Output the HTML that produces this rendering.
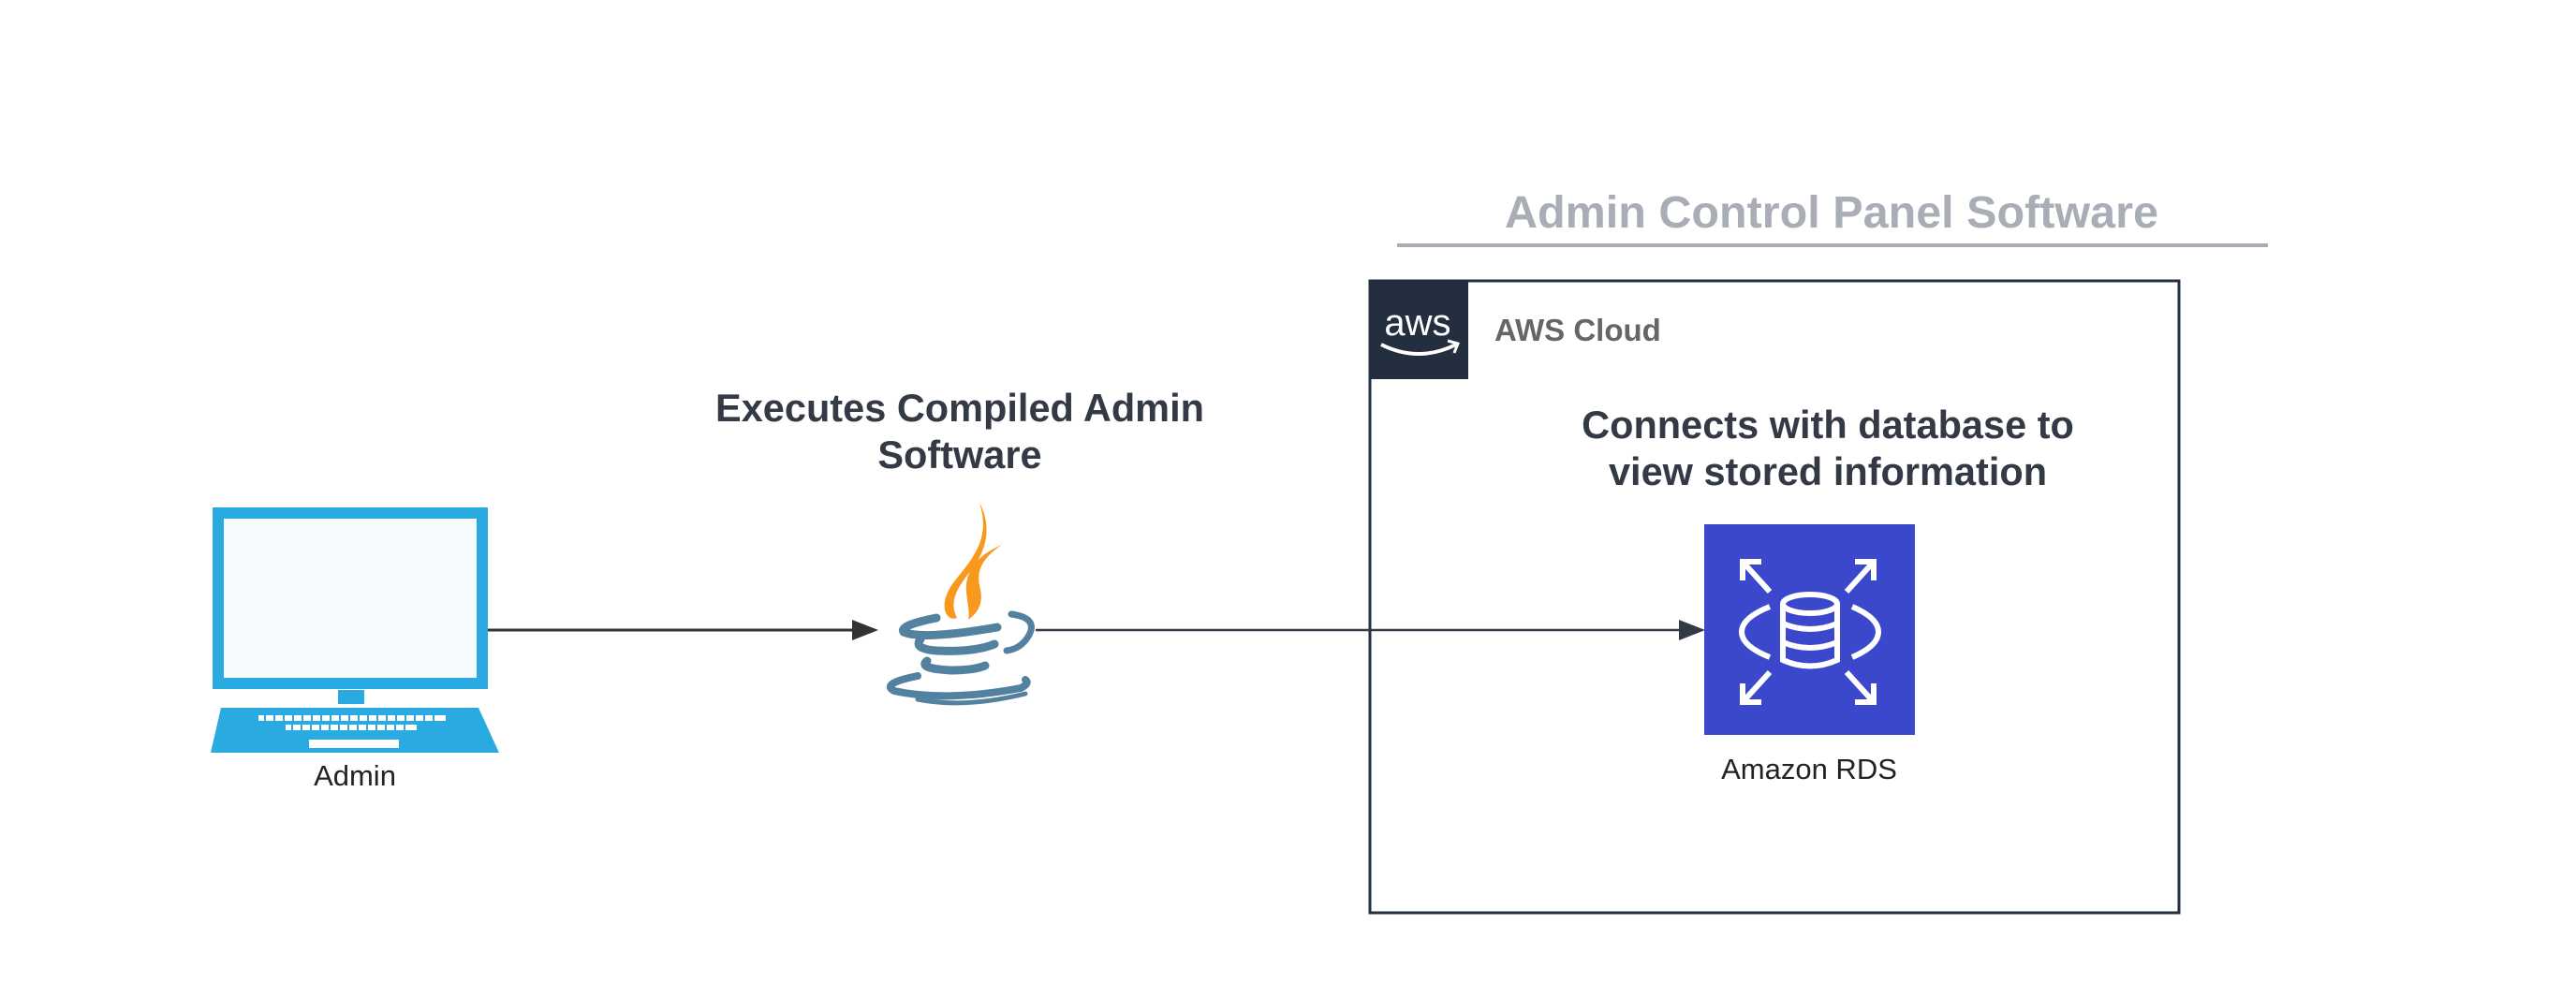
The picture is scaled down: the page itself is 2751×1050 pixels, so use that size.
<!DOCTYPE html>
<html><head><meta charset="utf-8"><style>
html,body{margin:0;padding:0;background:#fff;}
svg{display:block;}
text{font-family:"Liberation Sans",Arial,sans-serif;}
</style></head><body>
<svg width="2751" height="1050" viewBox="0 0 2751 1050" xmlns="http://www.w3.org/2000/svg">
<rect width="2751" height="1050" fill="#fff"/>
<!-- Title -->
<text x="1956" y="243" font-size="48.5" font-weight="bold" fill="#a9adb5" text-anchor="middle">Admin Control Panel Software</text>
<line x1="1492" y1="262" x2="2422" y2="262" stroke="#a9adb5" stroke-width="4"/>
<!-- AWS box -->
<rect x="1463" y="300" width="864" height="675" fill="none" stroke="#232f3e" stroke-width="3"/>
<rect x="1462" y="299" width="106" height="106" fill="#232f3e"/>
<text x="1514" y="358" font-size="40" fill="#fff" text-anchor="middle">aws</text>
<path d="M1475 368 Q1515 388 1555 368" stroke="#fff" stroke-width="4" fill="none"/>
<path d="M1546 364 L1557 367 L1553 377" stroke="#fff" stroke-width="3" fill="none"/>
<text x="1596" y="364" font-size="33" font-weight="bold" fill="#666">AWS Cloud</text>
<text x="1952" y="468" font-size="41.5" font-weight="bold" fill="#333a45" text-anchor="middle">Connects with database to</text>
<text x="1952" y="518" font-size="41.5" font-weight="bold" fill="#333a45" text-anchor="middle">view stored information</text>
<!-- RDS -->
<rect x="1820" y="560" width="225" height="225" fill="#3b48cc"/>
<g stroke="#fff" stroke-width="6" fill="none">
<path d="M1861 620 V600 H1881 M1861 600 L1890 632"/>
<path d="M2001 620 V600 H1981 M2001 600 L1972 632"/>
<path d="M1861 730 V750 H1881 M1861 750 L1890 718"/>
<path d="M2001 730 V750 H1981 M2001 750 L1972 718"/>
<path d="M1890 648 Q1860 660 1860 675 Q1860 690 1890 702"/>
<path d="M1978 648 Q2006 660 2006 675 Q2006 690 1978 702"/>
<ellipse cx="1933" cy="645" rx="29" ry="10"/>
<path d="M1904 645 V705 Q1933 718 1962 705 V645"/>
<path d="M1904 666 Q1933 678 1962 666 M1904 686 Q1933 698 1962 686"/>
</g>
<text x="1932" y="832" font-size="31" fill="#222" text-anchor="middle">Amazon RDS</text>
<!-- Admin computer -->
<rect x="233" y="548" width="282" height="182" fill="#f8fbfd" stroke="#29abe2" stroke-width="12"/>
<rect x="361" y="737" width="28" height="15" fill="#29abe2"/>
<path d="M236 756 H511 L533 804 H225 Z" fill="#29abe2"/>
<g fill="#fff">
<rect x="276" y="764" width="200" height="6"/>
<rect x="305" y="774" width="140" height="6"/>
<rect x="330" y="790" width="96" height="9"/>
</g>
<g stroke="#29abe2" stroke-width="2">
<path d="M283 764 V770 M293 764 V770 M303 764 V770 M313 764 V770 M323 764 V770 M333 764 V770 M343 764 V770 M353 764 V770 M363 764 V770 M373 764 V770 M383 764 V770 M393 764 V770 M403 764 V770 M413 764 V770 M423 764 V770 M433 764 V770 M443 764 V770 M453 764 V770 M463 764 V770"/>
<path d="M312 774 V780 M322 774 V780 M332 774 V780 M342 774 V780 M352 774 V780 M362 774 V780 M372 774 V780 M382 774 V780 M392 774 V780 M402 774 V780 M412 774 V780 M422 774 V780 M432 774 V780"/>
</g>
<text x="379" y="839" font-size="31" fill="#222" text-anchor="middle">Admin</text>
<!-- Executes text -->
<text x="1025" y="450" font-size="41.5" font-weight="bold" fill="#333a45" text-anchor="middle">Executes Compiled Admin</text>
<text x="1025" y="500" font-size="41.5" font-weight="bold" fill="#333a45" text-anchor="middle">Software</text>
<!-- connectors -->
<line x1="521" y1="673" x2="915" y2="673" stroke="#333" stroke-width="3"/>
<path d="M910 662 L938 673 L910 684 Z" fill="#333"/>
<line x1="1106" y1="673" x2="1797" y2="673" stroke="#333a45" stroke-width="2.5"/>
<path d="M1793 662 L1821 673 L1793 684 Z" fill="#333a45"/>
<!-- Java icon -->
<g fill="#f8981d">
<path d="M1046 537 C1058 575 1040 595 1020 620 C1000 645 1010 665 1022 660 C1012 640 1025 625 1040 605 C1058 580 1056 555 1046 537 Z"/>
<path d="M1070 582 C1045 592 1030 610 1032 632 C1033 645 1036 655 1034 662 C1048 652 1050 640 1046 625 C1042 605 1055 592 1070 582 Z"/>
</g>
<g fill="none" stroke="#5382a1" stroke-linecap="round">
<path d="M1000 660 Q960 668 965 675 Q985 684 1065 670" stroke-width="9"/>
<path d="M1080 656 Q1110 660 1098 680 Q1090 693 1075 695" stroke-width="7"/>
<path d="M983 683 Q975 693 1000 695 Q1040 697 1062 688" stroke-width="9"/>
<path d="M990 706 Q980 714 1015 716 Q1040 716 1052 711" stroke-width="9"/>
<path d="M980 722 Q940 730 955 738 Q1010 750 1090 735 Q1100 730 1095 726" stroke-width="8"/>
<path d="M980 747 Q1030 757 1095 741" stroke-width="5"/>
</g>
</svg>
</body></html>
